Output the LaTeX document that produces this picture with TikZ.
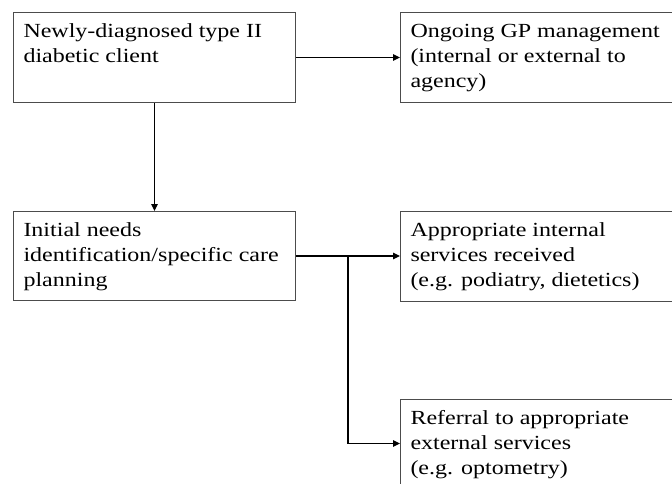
\documentclass[tikz,border=0pt]{standalone}
\usepackage{fontspec}
\setmainfont[FakeStretch=1.2]{Liberation Serif}
\usetikzlibrary{arrows.meta}
\newcommand\boxtxt[3]{\parbox[c][#2][t]{#1}{\rule{0pt}{25pt}\ignorespaces#3}}
\tikzset{
  flowbox/.style={draw=black!70, line width=1pt, inner xsep=10pt, inner ysep=0pt, anchor=north west, align=left, rectangle,
    font=\fontsize{20}{25}\selectfont},
  conn/.style={draw=black, line width=1.2pt, -{Triangle[length=7pt,width=6.5pt]}},
  plain/.style={draw=black, line width=1.2pt}
}
\begin{document}
\begin{tikzpicture}[x=1pt,y=-1pt]
\useasboundingbox (0,0) rectangle (672,483);
\clip (0,0) rectangle (672,483);
\node[flowbox] (b1) at (13,12) {\boxtxt{262pt}{90pt}{Newly-diagnosed type II\\diabetic client}};
\node[flowbox] (b2) at (400,12) {\boxtxt{270pt}{90pt}{Ongoing GP management\\(internal or external to\\agency)}};
\node[flowbox] (b3) at (13,211) {\boxtxt{262pt}{89pt}{Initial needs\\identification/specific care\\planning}};
\node[flowbox] (b4) at (400,211) {\boxtxt{270pt}{90pt}{Appropriate internal\\services received\\(e.g. podiatry, dietetics)}};
\node[flowbox] (b5) at (400,399) {\boxtxt{270pt}{88pt}{Referral to appropriate\\external services\\(e.g. optometry)}};
\draw[conn] (b1.east) -- (b1.east -| b2.west);
\draw[conn] (b1.south) -- (b3.north);
\draw[conn] (b3.east) -- (b3.east -| b4.west);
\coordinate (br) at (b3.east -| 348,0);
\draw[conn] (br) |- (b5.west);
\end{tikzpicture}
\end{document}
